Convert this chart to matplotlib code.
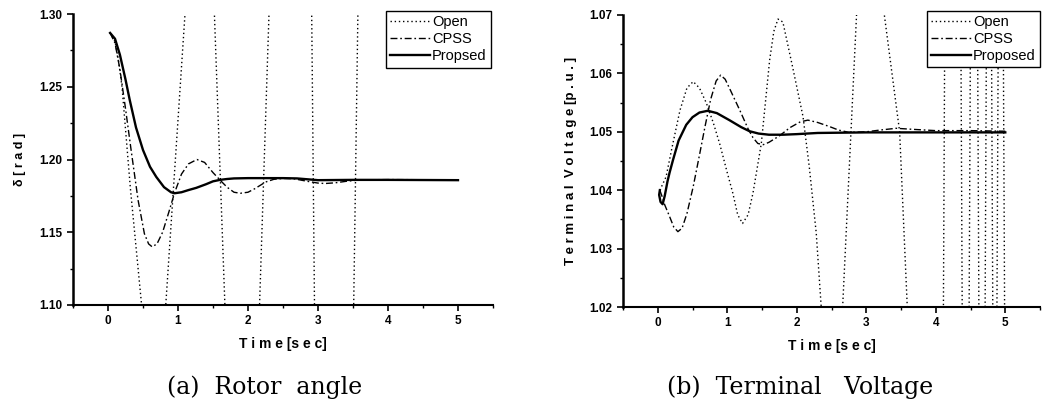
import numpy as np
import matplotlib
matplotlib.use("Agg")
import matplotlib.pyplot as plt
from matplotlib.ticker import MultipleLocator

# ---- (a) rotor angle data ----
t_open_a = [0.03, 0.10, 0.15, 0.20, 0.26, 0.32, 0.40, 0.48, 0.65, 0.825, 1.10, 1.30, 1.52, 1.67,
            1.90, 2.165, 2.30, 2.60, 2.91, 2.95, 3.20, 3.51, 3.57, 4.00]
d_open_a = [1.287, 1.281, 1.268, 1.250, 1.215, 1.180, 1.140, 1.100, 1.000, 1.100, 1.300, 1.400, 1.300, 1.100,
            0.950, 1.100, 1.300, 1.500, 1.300, 1.100, 0.900, 1.100, 1.300, 1.600]

t_cpss_a = [0.03, 0.10, 0.17, 0.25, 0.33, 0.43, 0.52, 0.58, 0.63, 0.70, 0.78, 0.87, 0.95, 1.05, 1.15,
            1.27, 1.38, 1.50, 1.61, 1.70, 1.80, 1.89, 2.00, 2.10, 2.25, 2.37, 2.50, 2.65, 2.85, 3.00,
            3.10, 3.25, 3.40, 3.60, 4.00, 5.00]
d_cpss_a = [1.287, 1.280, 1.262, 1.235, 1.2065, 1.172, 1.149, 1.142, 1.140, 1.142, 1.150, 1.164, 1.177,
            1.190, 1.197, 1.200, 1.198, 1.191, 1.1854, 1.181, 1.1775, 1.1768, 1.1775, 1.180, 1.1845,
            1.1864, 1.187, 1.1868, 1.185, 1.1838, 1.1835, 1.184, 1.185, 1.186, 1.1862, 1.186]

t_prop_a = [0.03, 0.10, 0.17, 0.25, 0.31, 0.40, 0.50, 0.60, 0.69, 0.80, 0.90, 0.95, 1.05, 1.15, 1.26,
            1.40, 1.50, 1.60, 1.70, 1.80, 2.00, 2.50, 2.70, 3.00, 3.50, 4.00, 5.00]
d_prop_a = [1.287, 1.283, 1.272, 1.255, 1.241, 1.222, 1.2065, 1.195, 1.188, 1.181, 1.1775, 1.1768,
            1.1775, 1.179, 1.1805, 1.183, 1.185, 1.186, 1.1866, 1.187, 1.1872, 1.1872, 1.187, 1.1858,
            1.186, 1.186, 1.1858]

# ---- (b) terminal voltage data ----
t_open_b = [0.03, 0.07, 0.12, 0.20, 0.32, 0.42, 0.51, 0.60, 0.70, 0.80, 0.89, 1.00, 1.08, 1.15, 1.22,
            1.30, 1.37, 1.49, 1.61, 1.67, 1.73, 1.80, 1.94, 2.09, 2.18, 2.28, 2.35, 2.50, 2.66, 2.78,
            2.86, 3.06, 3.26, 3.48, 3.59, 3.85, 4.11, 4.13, 4.25, 4.36, 4.38, 4.43, 4.48, 4.50, 4.55,
            4.60, 4.62, 4.67, 4.71, 4.73, 4.77, 4.80, 4.82, 4.855, 4.88, 4.90, 4.935, 4.97, 4.99]
v_open_b = [1.0400, 1.0410, 1.0423, 1.0470, 1.0537, 1.0575, 1.0586, 1.0575, 1.0549, 1.0515, 1.0480,
            1.0430, 1.0395, 1.0358, 1.0343, 1.0358, 1.0395, 1.0480, 1.0623, 1.0672, 1.0693, 1.0688,
            1.0611, 1.0526, 1.0440, 1.0327, 1.0203, 1.0100, 1.0200, 1.0500, 1.0700, 1.0850, 1.0700,
            1.0500, 1.0200, 1.0000, 1.0200, 1.0700, 1.0900, 1.0700, 1.0200, 1.0100, 1.0200, 1.0700,
            1.0800, 1.0700, 1.0200, 1.0100, 1.0200, 1.0700, 1.0800, 1.0700, 1.0200, 1.0100, 1.0200,
            1.0700, 1.0800, 1.0700, 1.0200]

t_cpss_b = [0.03, 0.06, 0.10, 0.17, 0.23, 0.29, 0.35, 0.42, 0.51, 0.60, 0.68, 0.76, 0.84, 0.905, 0.97,
            1.05, 1.18, 1.30, 1.37, 1.44, 1.52, 1.60, 1.75, 1.90, 2.05, 2.16, 2.30, 2.47, 2.60, 2.75,
            3.00, 3.20, 3.43, 3.70, 4.00, 4.50, 5.00]
v_cpss_b = [1.0400, 1.0390, 1.0375, 1.0355, 1.0337, 1.0329, 1.0335, 1.0360, 1.0406, 1.0460, 1.0509,
            1.0555, 1.0587, 1.0597, 1.0590, 1.0570, 1.0537, 1.0505, 1.0490, 1.0480, 1.0478, 1.0482,
            1.0493, 1.0507, 1.0517, 1.0520, 1.0516, 1.0509, 1.0503, 1.0499, 1.0500, 1.0503, 1.0506,
            1.0504, 1.0502, 1.0502, 1.0501]

t_prop_b = [0.03, 0.02, 0.04, 0.07, 0.10, 0.14, 0.17, 0.22, 0.30, 0.41, 0.50, 0.60, 0.72, 0.85, 1.03,
            1.20, 1.32, 1.45, 1.60, 1.80, 2.00, 2.30, 3.00, 5.00]
v_prop_b = [1.0400, 1.0392, 1.0380, 1.0376, 1.0390, 1.0415, 1.0430, 1.0452, 1.0485, 1.0512, 1.0525,
            1.0533, 1.0536, 1.0532, 1.0520, 1.0508, 1.0501, 1.0497, 1.0495, 1.0495, 1.0496, 1.0498,
            1.0499, 1.0499]

x_ticks = [0, 1, 2, 3, 4, 5]

plt.rcParams['font.family'] = ['Liberation Sans', 'DejaVu Sans']

fig = plt.figure(figsize=(10.46, 4.03), dpi=100)
ax1 = fig.add_axes([0.0698, 0.2432, 0.4015, 0.722])
ax2 = fig.add_axes([0.5956, 0.2382, 0.3987, 0.7246])

dot = (0, (1, 2))
dashdot = (0, (5, 2, 1.2, 2))


def style_axes(ax, ymin, ymax, ymaj, ymin_step, fmt):
    ax.set_xlim(-0.5, 5.5)
    ax.set_ylim(ymin, ymax)
    ax.set_xticks(x_ticks)
    ax.xaxis.set_minor_locator(MultipleLocator(0.5))
    ax.yaxis.set_major_locator(MultipleLocator(ymaj))
    ax.yaxis.set_minor_locator(MultipleLocator(ymin_step))
    ax.yaxis.set_major_formatter(plt.FormatStrFormatter(fmt))
    for s in ['top', 'right']:
        ax.spines[s].set_visible(False)
    ax.spines['left'].set_linewidth(1.8)
    ax.spines['bottom'].set_linewidth(1.5)
    ax.tick_params(which='major', direction='out', length=4, width=1.2, labelsize=8.5)
    ax.tick_params(which='minor', direction='out', length=2.5, width=1)
    for lab in ax.get_xticklabels() + ax.get_yticklabels():
        lab.set_fontweight('bold')


ax1.plot(t_open_a, d_open_a, color='black', lw=1.0, linestyle=dot, label='Open')
ax1.plot(t_cpss_a, d_cpss_a, color='black', lw=1.0, linestyle=dashdot, label='CPSS')
ax1.plot(t_prop_a, d_prop_a, color='black', lw=1.7, label='Propsed')
style_axes(ax1, 1.10, 1.30, 0.05, 0.025, '%.2f')
ax1.set_xlabel('T i m e [s e c]', fontsize=10, fontweight='bold', labelpad=7)
ax1.set_ylabel('δ [ r a d ]', fontsize=9, fontweight='bold', labelpad=10)

ax2.plot(t_open_b, v_open_b, color='black', lw=1.0, linestyle=dot, label='Open')
ax2.plot(t_cpss_b, v_cpss_b, color='black', lw=1.0, linestyle=dashdot, label='CPSS')
ax2.plot(t_prop_b, v_prop_b, color='black', lw=1.7, label='Proposed')
style_axes(ax2, 1.02, 1.07, 0.01, 0.005, '%.2f')
ax2.set_xlabel('T i m e [s e c]', fontsize=10, fontweight='bold', labelpad=7)
ax2.set_ylabel('T e r m i n a l  V o l t a g e [p . u . ]', fontsize=9.5, fontweight='bold', labelpad=9)

for ax, anchor in [(ax1, (0.995, 1.01)), (ax2, (1.0, 1.015))]:
    leg = ax.legend(loc='upper right', bbox_to_anchor=anchor, fontsize=10.5, frameon=True,
                    fancybox=False, edgecolor='black', framealpha=1, borderpad=0.3,
                    labelspacing=0.2, handlelength=2.7, handletextpad=0.15, borderaxespad=0)
    leg.get_frame().set_linewidth(1.0)

fig.text(0.253, 0.040, '(a)  Rotor  angle', family='DejaVu Serif', fontsize=17, ha='center', va='center')
fig.text(0.765, 0.040, '(b)  Terminal   Voltage', family='DejaVu Serif', fontsize=17, ha='center', va='center')

fig.savefig('out.png', dpi=100)
